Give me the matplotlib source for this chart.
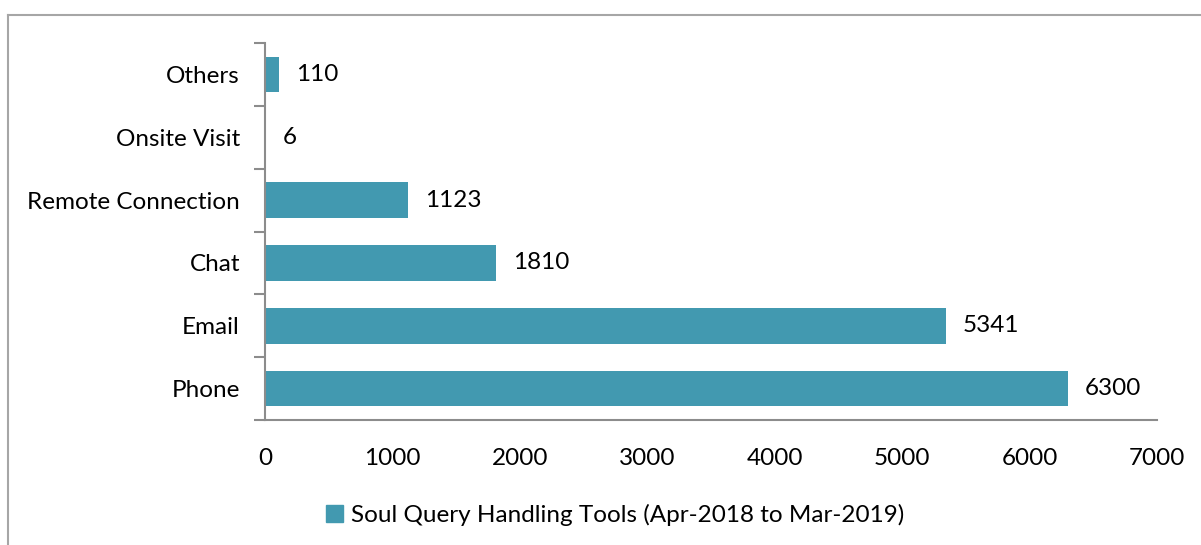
import matplotlib
matplotlib.use("Agg")
import matplotlib.pyplot as plt
import numpy as np
from matplotlib.lines import Line2D
from matplotlib.patches import Patch

categories = ["Phone", "Email", "Chat", "Remote Connection", "Onsite Visit", "Others"]
values = [6300, 5341, 1810, 1123, 6, 110]
series_name = "Soul Query Handling Tools (Apr-2018 to Mar-2019)"
xticks = [0, 1000, 2000, 3000, 4000, 5000, 6000, 7000]

color = "#4299B0"
gray = "#8C8C8C"
plt.rcParams['font.family'] = ['Lato', 'DejaVu Sans']
fs = 17.5

fig = plt.figure(figsize=(12.01, 5.45), dpi=100)
ax = fig.add_axes([265/1201, 1 - 420/545, (1157-265)/1201, (420-43)/545])

y = np.arange(len(categories))
bars = ax.barh(y, values, height=0.57, color=color)
ax.set_xlim(0, 7000)
ax.set_ylim(-0.5, len(categories) - 0.5)
ax.set_xticks(xticks)
ax.set_xticklabels([str(t) for t in xticks], fontsize=fs)
ax.set_yticks(y)
ax.set_yticklabels(categories, fontsize=fs)
ax.set_yticks(np.arange(-0.5, len(categories), 1), minor=True)
ax.tick_params(axis='y', which='major', length=0, pad=18)
ax.tick_params(axis='y', which='minor', length=8, color=gray, width=1.5)
ax.tick_params(axis='x', length=0, pad=20)
for s in ['top', 'right']:
    ax.spines[s].set_visible(False)
for s in ['left', 'bottom']:
    ax.spines[s].set_color(gray)
    ax.spines[s].set_linewidth(1.5)

for b, v in zip(bars, values):
    ax.annotate(str(v), (b.get_width(), b.get_y() + b.get_height()/2),
                xytext=(17, 0), textcoords='offset pixels',
                va='center', ha='left', fontsize=fs)

fig.legend(handles=[Patch(color=color, label=series_name)], loc='center',
           bbox_to_anchor=(615/1201, 1 - 515/545), frameon=False, fontsize=fs,
           handlelength=0.7, handleheight=0.7, handletextpad=0.3)

# outer chart border (partially visible)
fig.add_artist(Line2D([8/1201, 8/1201], [0, 1 - 15/545], transform=fig.transFigure, color="#A6A6A6", lw=1.5))
fig.add_artist(Line2D([8/1201, 1], [1 - 15/545, 1 - 15/545], transform=fig.transFigure, color="#A6A6A6", lw=1.5))

fig.savefig("out.png", dpi=100)
